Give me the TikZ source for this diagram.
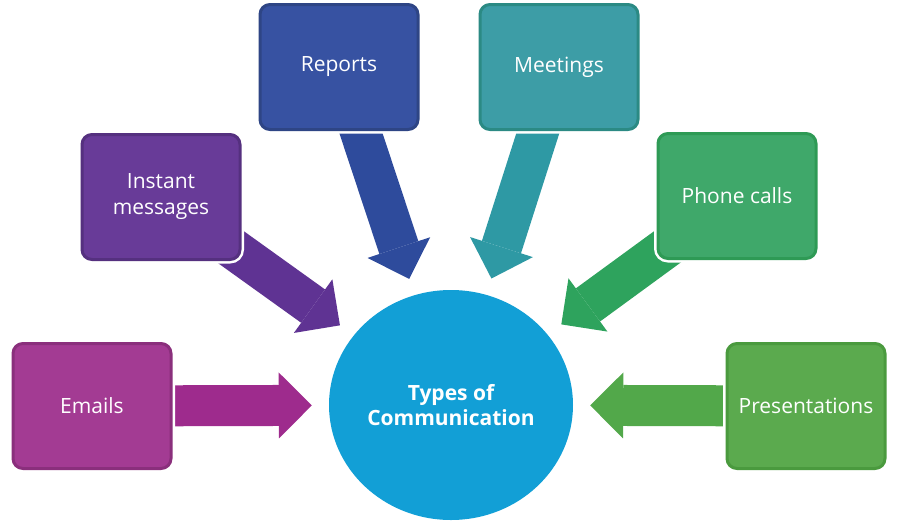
\documentclass[tikz,border=0pt]{standalone}
\usepackage{fontspec}
\setmainfont{Open Sans}
\usetikzlibrary{arrows.meta,backgrounds,shapes.geometric}

\definecolor{emailsbox}{HTML}{A33B93}
\definecolor{emailsrim}{HTML}{8A2F7C}
\definecolor{emailsarr}{HTML}{9E2B8D}
\definecolor{instantbox}{HTML}{683B98}
\definecolor{instantrim}{HTML}{55307F}
\definecolor{instantarr}{HTML}{5F3393}
\definecolor{reportsbox}{HTML}{3752A2}
\definecolor{reportsrim}{HTML}{2E4585}
\definecolor{reportsarr}{HTML}{2E4B9C}
\definecolor{meetingsbox}{HTML}{3D9DA6}
\definecolor{meetingsrim}{HTML}{2B8A84}
\definecolor{meetingsarr}{HTML}{2E99A4}
\definecolor{phonebox}{HTML}{3FA86A}
\definecolor{phonerim}{HTML}{2E9A55}
\definecolor{phonearr}{HTML}{2EA35D}
\definecolor{presbox}{HTML}{5BAA4E}
\definecolor{presrim}{HTML}{4A9A3E}
\definecolor{presarr}{HTML}{52A84A}
\definecolor{hubblue}{HTML}{129FD6}

\begin{document}
\begin{tikzpicture}[x=1pt,y=-1pt]
	\tikzstyle{topic} = [rectangle, rounded corners=10pt, minimum width=158pt, minimum height=125pt, line width=3pt, text=white, align=center, font=\fontsize{21}{26}\selectfont, preaction={draw=white, line width=8pt}]
	\tikzstyle{hub_circle} = [ellipse, inner sep=0pt, minimum width=244pt, minimum height=230pt, fill=hubblue, text=white, align=center, font=\fontsize{21}{25}\selectfont\bfseries]
	\tikzstyle{feed} = [line width=41pt, shorten >=17pt, -{Triangle[length=33pt, width=66pt, line width=0pt]}]

	\useasboundingbox (0,0) rectangle (900,525);

%------------------------------------------------------------
	\node[hub_circle] (hub) at (451,405) {Types of\\Communication};

%------------------------------------------------------------
	\node[topic, fill=emailsbox, draw=emailsrim] (emails) at (92,406) {Emails};
	\node[topic, fill=instantbox, draw=instantrim] (instant) at (161,197) {Instant\\messages};
	\node[topic, fill=reportsbox, draw=reportsrim] (reports) at (339,67) {Reports};

%------------------------------------------------------------
	\node[topic, fill=meetingsbox, draw=meetingsrim] (meetings) at (559,67) {Meetings};
	\node[topic, fill=phonebox, draw=phonerim] (phone) at (737,196) {Phone calls};
	\node[topic, fill=presbox, draw=presrim] (pres) at (806,406) {Presentations};

%------------------------------------------------------------
	\begin{pgfonlayer}{background}
		\draw[feed, emailsarr] (emails.center) -- (hub);
		\draw[feed, instantarr] (instant.center) -- (hub);
		\draw[feed, reportsarr] (reports.center) -- (hub);
		\draw[feed, meetingsarr] (meetings.center) -- (hub);
		\draw[feed, phonearr] (phone.center) -- (hub);
		\draw[feed, presarr] (pres.center) -- (hub);
	\end{pgfonlayer}

\end{tikzpicture}
\end{document}
